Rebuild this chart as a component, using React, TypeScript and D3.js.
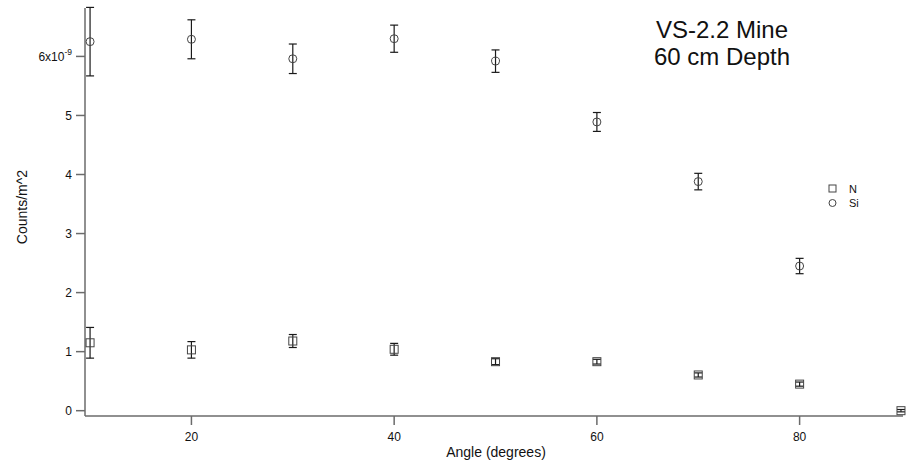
import * as d3 from 'd3';
import React from 'react';

const angles = [10, 20, 30, 40, 50, 60, 70, 80, 90];
const siValues = [6.25, 6.29, 5.96, 6.30, 5.92, 4.89, 3.88, 2.45];
const siErrors = [0.58, 0.33, 0.25, 0.23, 0.19, 0.16, 0.14, 0.13];
const nValues = [1.15, 1.03, 1.18, 1.04, 0.83, 0.83, 0.605, 0.45, 0.0];
const nErrors = [0.26, 0.14, 0.11, 0.10, 0.05, 0.04, 0.035, 0.035, 0.02];
const xTicks = [20, 40, 60, 80];
const yTicks = [0, 1, 2, 3, 4, 5, 6];

const W = 906;
const H = 464;
const left = 85;
const right = 903;
const top = 8;
const bottom = 416;
const font = 'Arial, "Liberation Sans", sans-serif';
const axisColour = '#6b6b6b';

const ErrorBar = ({ x, y0, y1 }: { x: number; y0: number; y1: number }) => (
  <g stroke="#1a1a1a" strokeWidth={1.2}>
    <line x1={x} x2={x} y1={y0} y2={y1} />
    <line x1={x - 4} x2={x + 4} y1={y0} y2={y0} />
    <line x1={x - 4} x2={x + 4} y1={y1} y2={y1} />
  </g>
);

export default function App() {
  const x = d3.scaleLinear().domain([9.5, 90.2]).range([left, right]);
  const y = d3.scaleLinear().domain([-0.09, 6.82]).range([bottom, top]);

  return (
    <svg width={W} height={H} style={{ position: 'absolute', left: 0, top: 0, background: '#fff' }}
      fontFamily={font}>
      {/* axes */}
      <line x1={left} x2={left} y1={top} y2={bottom} stroke={axisColour} strokeWidth={1.5} />
      <line x1={left} x2={right} y1={bottom} y2={bottom} stroke={axisColour} strokeWidth={1.5} />

      {xTicks.map(t => (
        <g key={'x' + t}>
          <line x1={x(t)} x2={x(t)} y1={bottom} y2={bottom + 9} stroke={axisColour} strokeWidth={1.5} />
          <text x={x(t)} y={bottom + 25} fontSize={12} textAnchor="middle" fill="#111">{t}</text>
        </g>
      ))}

      {yTicks.map(t => (
        <g key={'y' + t}>
          <line x1={left - 9} x2={left} y1={y(t)} y2={y(t)} stroke={axisColour} strokeWidth={1.5} />
          {t === 6 ? (
            <text x={72} y={y(t) + 4.5} fontSize={12} textAnchor="end" fill="#111">
              6x10<tspan fontSize={8.5} dy={-6}>-9</tspan>
            </text>
          ) : (
            <text x={72} y={y(t) + 4.5} fontSize={12} textAnchor="end" fill="#111">{t}</text>
          )}
        </g>
      ))}

      <text x={496} y={457} fontSize={14} textAnchor="middle" fill="#111">Angle (degrees)</text>
      <text transform={`translate(27, 207) rotate(-90)`} fontSize={14}
        textAnchor="middle" fill="#111">Counts/m^2</text>

      {/* Si series */}
      {siValues.map((v, i) => (
        <g key={'si' + i}>
          <ErrorBar x={x(angles[i])} y0={y(v + siErrors[i])} y1={y(v - siErrors[i])} />
          <circle cx={x(angles[i])} cy={y(v)} r={4} fill="none" stroke="#444" strokeWidth={1} />
        </g>
      ))}

      {/* N series */}
      {nValues.map((v, i) => (
        <g key={'n' + i}>
          <ErrorBar x={x(angles[i])} y0={y(v + nErrors[i])} y1={y(v - nErrors[i])} />
          <rect x={x(angles[i]) - 4} y={y(v) - 4} width={8} height={8} fill="none" stroke="#444" strokeWidth={1} />
        </g>
      ))}

      {/* title */}
      <text x={722} y={38} fontSize={24} textAnchor="middle" fill="#111">VS-2.2 Mine</text>
      <text x={722} y={65} fontSize={24} textAnchor="middle" fill="#111">60 cm Depth</text>

      {/* legend */}
      <rect x={829} y={185} width={7} height={7} fill="none" stroke="#444" strokeWidth={1} />
      <text x={849} y={193} fontSize={11} fill="#111">N</text>
      <circle cx={832.5} cy={203} r={3.5} fill="none" stroke="#444" strokeWidth={1} />
      <text x={849} y={207} fontSize={11} fill="#111">Si</text>
    </svg>
  );
}
